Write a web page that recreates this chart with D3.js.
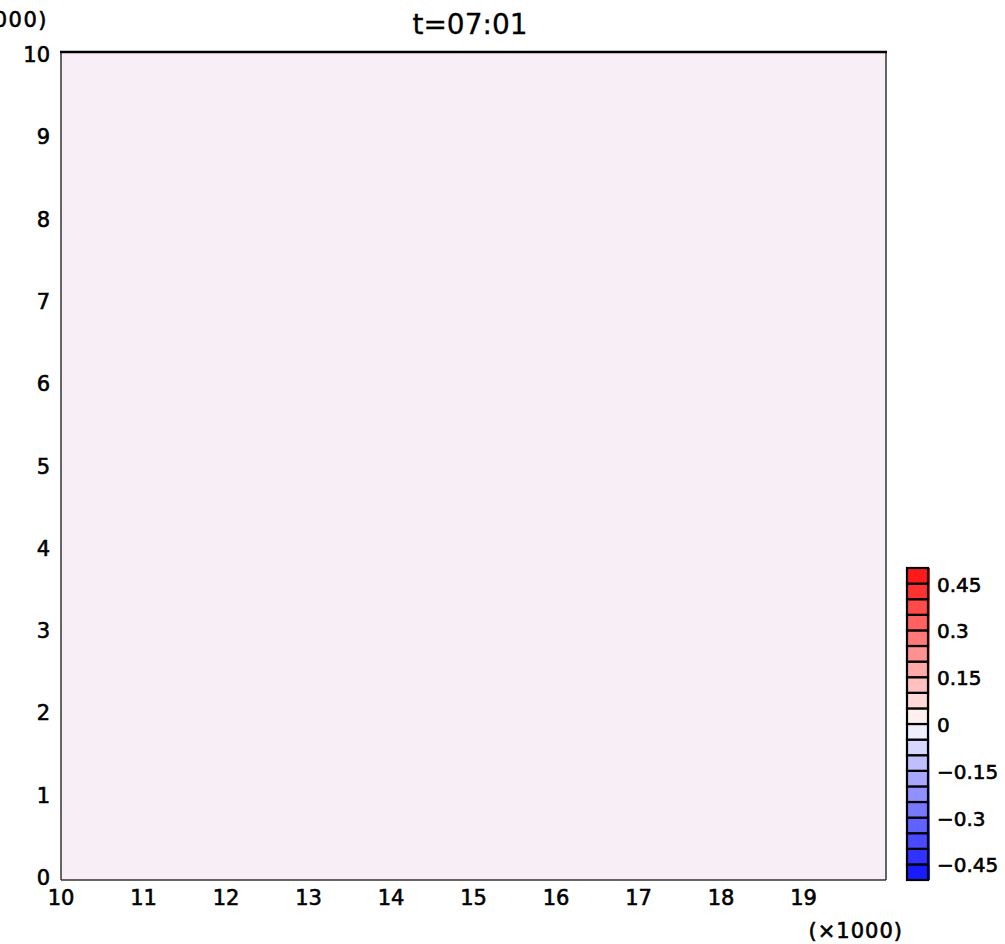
<!DOCTYPE html>
<html>
<head>
<meta charset="utf-8">
<script src="https://cdn.jsdelivr.net/npm/d3@7"></script>
<style>
  html, body { margin: 0; padding: 0; background: #fff; }
  svg { display: block; }
  text { font-family: "DejaVu Sans", "Liberation Sans", Arial, sans-serif; fill: #000; }
  .lab { stroke: #000; stroke-width: 0.6px; }
</style>
</head>
<body>
<svg id="chart" width="1005" height="944"></svg>
<script>
// ---- data ----
const title = "t=07:01";
const xDomain = [10000, 20000];
const yDomain = [0, 10000];
const xTicks = [10, 11, 12, 13, 14, 15, 16, 17, 18, 19];
const yTicks = [0, 1, 2, 3, 4, 5, 6, 7, 8, 9, 10];
const levels = [-0.5, -0.45, -0.4, -0.35, -0.3, -0.25, -0.2, -0.15, -0.1, -0.05, 0,
                0.05, 0.1, 0.15, 0.2, 0.25, 0.3, 0.35, 0.4, 0.45, 0.5];
const levelLabels = [-0.45, -0.3, -0.15, 0, 0.15, 0.3, 0.45];
// field values (whole domain near zero)
const fieldX = [10000];
const fieldY = [0];
const fieldValues = [0];

// ---- layout ----
const svg = d3.select("#chart");
const L = 61, R = 886, T = 52, B = 880;
const x = d3.scaleLinear().domain(xDomain).range([L, R]);
const y = d3.scaleLinear().domain(yDomain).range([B, T]);

const nb = levels.length - 1;
function binColor(i) {
  const mid = (levels[i] + levels[i + 1]) / 2;
  if (mid > 0) {
    const k = Math.round(mid / 0.05 - 0.5);
    return d3.interpolateRgb("#fff0f0", "#ff1a1a")(k / 9);
  } else {
    const k = Math.round(-mid / 0.05 - 0.5);
    return d3.interpolateRgb("#eeeeff", "#1a1aff")(k / 9);
  }
}

// field: value 0 sits on the boundary between the two central bins -> blend them
const fieldColor = d3.interpolateRgb(binColor(9), binColor(10))(0.6);
fieldValues.forEach((v, i) => {
  svg.append("rect")
    .attr("x", x(fieldX[i])).attr("y", y(yDomain[1]))
    .attr("width", x(xDomain[1]) - x(fieldX[i]))
    .attr("height", y(fieldY[i]) - y(yDomain[1]))
    .attr("fill", fieldColor);
});

// frame
svg.append("line").attr("x1", L).attr("x2", R).attr("y1", B).attr("y2", B).attr("stroke", "#333").attr("stroke-width", 1.5);
svg.append("line").attr("x1", L).attr("x2", L).attr("y1", T).attr("y2", B).attr("stroke", "#333").attr("stroke-width", 1.5);
svg.append("line").attr("x1", R).attr("x2", R).attr("y1", T).attr("y2", B).attr("stroke", "#333").attr("stroke-width", 1.5);
svg.append("line").attr("x1", L - 1).attr("x2", R + 1).attr("y1", T).attr("y2", T).attr("stroke", "#000").attr("stroke-width", 2.5);

// y tick labels
svg.append("g").selectAll("text").data(yTicks).join("text")
  .attr("class", "lab")
  .attr("x", 50).attr("y", d => y(d * 1000) + 5 + 0.52 * d)
  .attr("text-anchor", "end")
  .attr("font-size", 21)
  .text(d => d);

// x tick labels
svg.append("g").selectAll("text").data(xTicks).join("text")
  .attr("class", "lab")
  .attr("x", d => x(d * 1000)).attr("y", 905)
  .attr("text-anchor", "middle")
  .attr("font-size", 21)
  .text(d => d);

// multiplier labels
svg.append("text").attr("class", "lab").attr("x", 48).attr("y", 27).attr("text-anchor", "end")
  .attr("font-size", 21).attr("letter-spacing", 1.5).text("(\u00d71000)");
svg.append("text").attr("class", "lab").attr("x", 903).attr("y", 938).attr("text-anchor", "end")
  .attr("font-size", 21).attr("letter-spacing", 1).text("(\u00d71000)");

// title
svg.append("text").attr("x", 470).attr("y", 34).attr("text-anchor", "middle")
  .attr("font-size", 28).attr("stroke", "#000").attr("stroke-width", 0.3).text(title);

// colorbar
const cb = d3.scaleLinear().domain([levels[0], levels[levels.length - 1]]).range([880, 568]);
const cbL = 907, cbW = 21;
const bins = d3.range(nb);
svg.append("g").selectAll("rect.s").data(bins).join("rect")
  .attr("x", cbL + cbW - 1).attr("width", 3)
  .attr("y", i => cb(levels[i + 1])).attr("height", i => cb(levels[i]) - cb(levels[i + 1]))
  .attr("fill", binColor);
svg.append("g").selectAll("rect.b").data(bins).join("rect")
  .attr("x", cbL).attr("width", cbW)
  .attr("y", i => cb(levels[i + 1])).attr("height", i => cb(levels[i]) - cb(levels[i + 1]))
  .attr("fill", binColor).attr("stroke", "#000").attr("stroke-width", 2.2);

svg.append("g").selectAll("text").data(levelLabels).join("text")
  .attr("class", "lab")
  .attr("x", 937).attr("y", d => cb(d) + 8)
  .attr("font-size", 20)
  .text(d => d < 0 ? "\u2212" + d3.format("")(-d) : d3.format("")(d));
</script>
</body>
</html>
